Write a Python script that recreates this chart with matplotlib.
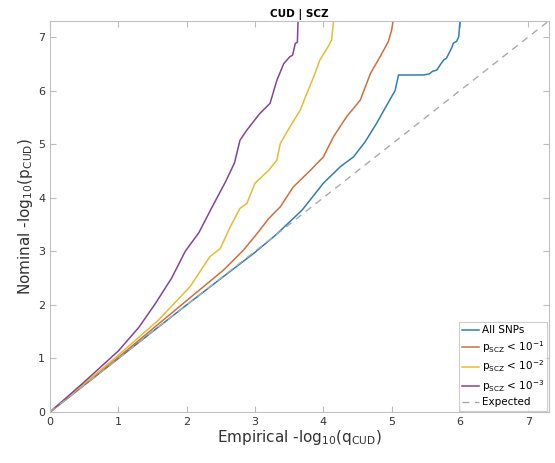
import numpy as np
import matplotlib
matplotlib.use('Agg')
import matplotlib.pyplot as plt

# Valores (empírico x nominal)
x_all = [0, 0.5, 1.0, 1.5, 2.0, 2.5, 3.0, 3.3, 3.69, 4.0, 4.25, 4.44, 4.61, 4.78,
         4.93, 5.05, 5.10, 5.47, 5.55, 5.6, 5.66, 5.7, 5.76, 5.8, 5.86, 5.88, 5.9,
         5.95, 5.98, 6.0]
y_all = [0, 0.5, 1.0, 1.5, 2.0, 2.49, 2.98, 3.3, 3.77, 4.27, 4.58, 4.76, 5.04, 5.39,
         5.73, 6.0, 6.29, 6.29, 6.31, 6.36, 6.38, 6.46, 6.57, 6.6, 6.75, 6.8, 6.88,
         6.92, 7.0, 7.3]

x_p1 = [0, 0.5, 1.0, 1.5, 2.0, 2.54, 2.83, 3.03, 3.2, 3.37, 3.56, 3.81, 4.0, 4.15,
        4.34, 4.54, 4.69, 4.83, 4.95, 5.0, 5.02]
y_p1 = [0, 0.51, 1.02, 1.55, 2.08, 2.65, 3.02, 3.33, 3.61, 3.83, 4.2, 4.51, 4.76, 5.14,
        5.51, 5.82, 6.32, 6.63, 6.91, 7.13, 7.3]

x_p2 = [0, 0.5, 1.0, 1.59, 2.05, 2.34, 2.49, 2.64, 2.78, 2.88, 3.0, 3.2, 3.32, 3.37,
        3.51, 3.66, 3.76, 3.86, 3.95, 4.07, 4.12, 4.15]
y_p2 = [0, 0.53, 1.06, 1.72, 2.34, 2.90, 3.05, 3.46, 3.80, 3.89, 4.27, 4.51, 4.70, 5.01,
        5.32, 5.63, 5.95, 6.26, 6.57, 6.82, 6.94, 7.3]

x_p3 = [0, 0.5, 1.0, 1.3, 1.54, 1.78, 1.98, 2.18, 2.37, 2.57, 2.70, 2.78, 2.88, 3.07,
        3.22, 3.32, 3.42, 3.51, 3.55, 3.59, 3.62, 3.63]
y_p3 = [0, 0.56, 1.14, 1.58, 2.02, 2.5, 3.0, 3.35, 3.82, 4.3, 4.65, 5.07, 5.26, 5.57,
        5.76, 6.19, 6.50, 6.63, 6.66, 6.88, 6.9, 7.3]

limite = 7.3
ticks = [0, 1, 2, 3, 4, 5, 6, 7]

fig = plt.figure(figsize=(5.55, 4.63), dpi=100)
ax = fig.add_axes([0.090, 0.110, 0.899, 0.845])

ax.plot(x_all, y_all, color='#2f7fb0', lw=1.1, label='All SNPs')
ax.plot(x_p1, y_p1, color='#cf6f3c', lw=1.1, label=r'$\mathrm{p}_{\mathrm{SCZ}}$ < 10$^{-1}$')
ax.plot(x_p2, y_p2, color='#e6bb33', lw=1.1, label=r'$\mathrm{p}_{\mathrm{SCZ}}$ < 10$^{-2}$')
ax.plot(x_p3, y_p3, color='#83449a', lw=1.1, label=r'$\mathrm{p}_{\mathrm{SCZ}}$ < 10$^{-3}$')
ax.plot([0, limite], [0, limite], ls=(0, (5, 4)), color='#aaaaaa', lw=1.0, label='Expected')

ax.set_xlim(0, limite)
ax.set_ylim(0, limite)
ax.set_xticks(ticks)
ax.set_yticks(ticks)
ax.tick_params(direction='in', top=True, right=True, length=4, colors='#bbbbbb',
               labelcolor='#333333', labelsize=8)
for s in ax.spines.values():
    s.set_color('#c0c0c0')

ax.set_title('CUD | SCZ', fontsize=7.5, fontweight='bold', pad=3)
ax.set_xlabel(r'Empirical -log$_{10}$(q$_{\mathrm{CUD}}$)', fontsize=11, color='#333333', labelpad=1)
ax.set_ylabel(r'Nominal -log$_{10}$(p$_{\mathrm{CUD}}$)', fontsize=11, color='#333333', labelpad=2)

leg = ax.legend(loc='lower right', fontsize=7.5, handlelength=1.6, handletextpad=0.3,
                borderaxespad=0.15, borderpad=0.3, labelspacing=0.35, fancybox=False)
leg.get_frame().set_edgecolor('#c0c0c0')
leg.get_frame().set_linewidth(0.8)

fig.savefig('out.png', dpi=100)
